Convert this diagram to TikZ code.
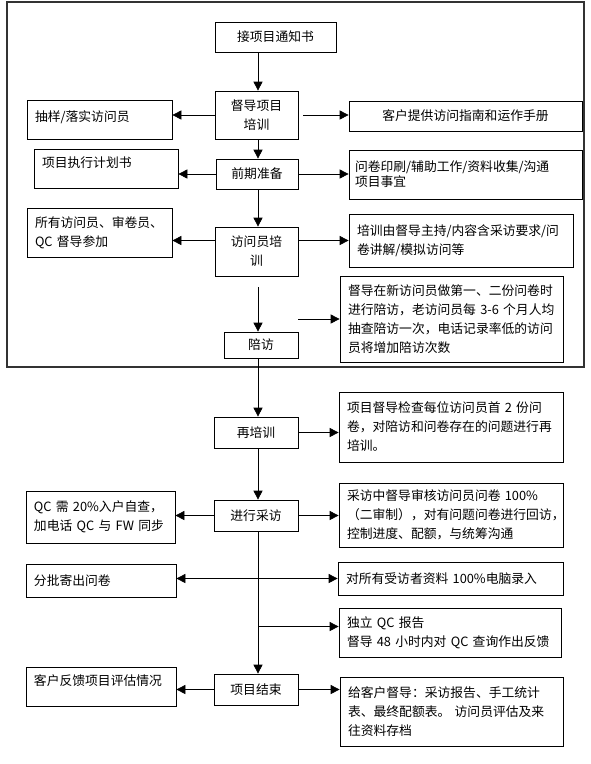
\documentclass[tikz,border=0pt]{standalone}
\usepackage{fontspec}
\setmainfont{Noto Sans CJK SC}
\usetikzlibrary{arrows.meta,calc}
\begin{document}
\begin{tikzpicture}[x=1pt,y=-1pt,
  bx/.style={draw, line width=0.7pt, inner xsep=8pt, inner ysep=2pt,
    font=\fontsize{12.8pt}{19pt}\selectfont},
  lbx/.style={bx, align=left, text width=#1},
  cbx/.style={bx, align=center},
  arr/.style={-{Triangle[length=9pt,width=9pt]}, line width=0.7pt},
  arrboth/.style={{Triangle[length=9pt,width=9pt]}-{Triangle[length=9pt,width=9pt]}, line width=0.7pt},
  frame/.style={draw=black!80, line width=1.3pt}
]
\useasboundingbox (0,0) rectangle (590,764);
\draw[frame] (7,2) rectangle (584,367);
\coordinate (spine) at (258,0);

% central column
\node[cbx, minimum width=121pt, minimum height=30pt] (top) at (275.5,37) {接项目通知书};
\node[cbx, minimum width=83pt, minimum height=48pt] (dd) at (256.5,115) {督导项目\\培训};
\node[cbx, minimum width=82pt, minimum height=30pt] (qq) at (257,174) {前期准备};
\node[cbx, minimum width=83pt, minimum height=49pt] (px) at (256.5,251.5) {访问员培\\训};
\node[cbx, minimum width=74pt, minimum height=26pt] (pf) at (261,345) {陪访};
\node[cbx, minimum width=84pt, minimum height=31pt] (zpx) at (256,432.5) {再培训};
\node[cbx, minimum width=84pt, minimum height=31pt] (jx) at (256,515.5) {进行采访};
\node[cbx, minimum width=84pt, minimum height=31pt] (js) at (256,689.5) {项目结束};

% left column
\node[lbx=129pt, minimum width=145pt, minimum height=39pt, text depth=6pt] (cy) at (99.5,119.5) {抽样/落实访问员};
\node[lbx=128pt, minimum width=144pt, minimum height=39pt, text depth=13pt] (jh) at (106,168.5) {项目执行计划书};
\node[lbx=129pt, minimum width=145pt, minimum height=49pt] (sy) at (99.5,232.5) {所有访问员、审卷员、\\QC 督导参加};
\node[lbx=133pt, minimum width=149pt, minimum height=52pt] (l6) at (100.5,517) {QC 需 20\%入户自查，\\加电话 QC 与 FW 同步};
\node[lbx=134pt, minimum width=150pt, minimum height=33pt] (l7) at (101,580.5) {分批寄出问卷};
\node[lbx=134pt, minimum width=150pt, minimum height=39pt, text depth=12pt] (l9) at (101,686.5) {客户反馈项目评估情况};

% right column
\node[cbx, minimum width=233pt, minimum height=30pt] (kh) at (465.5,116) {客户提供访问指南和运作手册};
\node[lbx=221pt, minimum width=233pt, minimum height=49pt, inner xsep=6pt,
  font=\fontsize{12.8pt}{15pt}\selectfont] (r2) at (465.5,174.5) {问卷印刷/辅助工作/资料收集/沟通\\项目事宜};
\node[lbx=208pt, minimum width=224pt, minimum height=53pt] (r3) at (461,240.5) {培训由督导主持/内容含采访要求/问\\卷讲解/模拟访问等};
\node[lbx=207pt, minimum width=223pt, minimum height=86pt] (r4) at (451.5,319) {督导在新访问员做第一、二份问卷时\\进行陪访，老访问员每 3-6 个月人均\\抽查陪访一次，电话记录率低的访问\\员将增加陪访次数};
\node[lbx=208pt, minimum width=224pt, minimum height=70pt] (r5) at (451,427) {项目督导检查每位访问员首 2 份问\\卷，对陪访和问卷存在的问题进行再\\培训。};
\node[lbx=208pt, minimum width=224pt, minimum height=64pt] (r6) at (451,515) {采访中督导审核访问员问卷 100\%\\（二审制），对有问题问卷进行回访，\\控制进度、配额，与统筹沟通};
\node[lbx=209pt, minimum width=225pt, minimum height=33pt] (r7) at (450.5,578.5) {对所有受访者资料 100\%电脑录入};
\node[lbx=206pt, minimum width=222pt, minimum height=49pt] (r8) at (450,632.5) {独立 QC 报告\\督导 48 小时内对 QC 查询作出反馈};
\node[lbx=207pt, minimum width=223pt, minimum height=69pt] (r9) at (451.5,711.5) {给客户督导：采访报告、手工统计\\表、最终配额表。 访问员评估及来\\往资料存档};

% spine
\draw[arr] (spine |- top.south) -- (spine |- dd.north);
\draw[arr] (spine |- dd.south) -- (spine |- qq.north);
\draw[arr] (spine |- qq.south) -- (spine |- px.north);
\draw[arr, shorten <=11pt] (spine |- px.south) -- (spine |- pf.north);
\draw[arr] (spine |- pf.south) -- (spine |- zpx.north);
\draw[arr] (spine |- zpx.south) -- (spine |- jx.north);
\draw[arr] (spine |- jx.south) -- (spine |- js.north);

% side arrows
\draw[arr] (dd.west) -- (cy.east |- dd.west);
\draw[arr, shorten <=5pt] (dd.east) -- (kh.west |- dd.east);
\draw[arr] (qq.west) -- (jh.east |- qq.west);
\draw[arr] (qq.east) -- (r2.west |- qq.east);
\draw[arr] (px.west |- r3.west) -- (sy.east |- r3.west);
\draw[arr] (px.east |- r3.west) -- (r3.west);
\draw[arr] (pf.east |- r4.west) -- (r4.west);
\draw[arr] (zpx.east) -- (r5.west |- zpx.east);
\draw[arr] (jx.west) -- (l6.east |- jx.west);
\draw[arr] (jx.east) -- (r6.west |- jx.east);
\draw[arrboth] (l7.east |- r7.west) -- (r7.west);
\draw[arr] ($(spine |- r8.west)+(0,-6)$) -- ($(r8.west)+(0,-6)$);
\draw[arr] (js.west) -- (l9.east |- js.west);
\draw[arr] (js.east) -- (r9.west |- js.east);
\end{tikzpicture}
\end{document}
